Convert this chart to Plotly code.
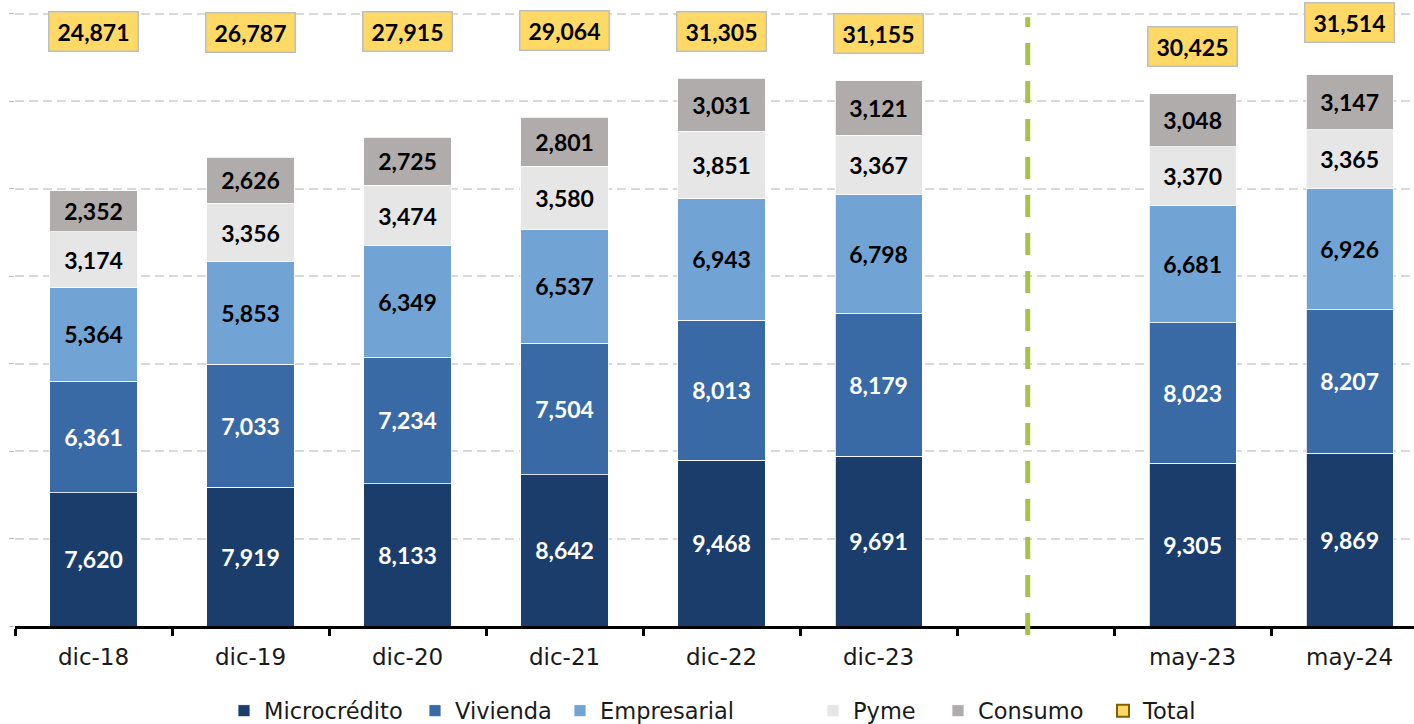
import plotly.graph_objects as go

categories = ["dic-18", "dic-19", "dic-20", "dic-21", "dic-22", "dic-23", " ", "may-23", "may-24"]
microcredito = [7620, 7919, 8133, 8642, 9468, 9691, None, 9305, 9869]
vivienda = [6361, 7033, 7234, 7504, 8013, 8179, None, 8023, 8207]
empresarial = [5364, 5853, 6349, 6537, 6943, 6798, None, 6681, 6926]
pyme = [3174, 3356, 3474, 3580, 3851, 3367, None, 3370, 3365]
consumo = [2352, 2626, 2725, 2801, 3031, 3121, None, 3048, 3147]
totals = [24871, 26787, 27915, 29064, 31305, 31155, None, 30425, 31514]
total_label_y = [33950, 33900, 33950, 34030, 33970, 33860, None, 33110, 34510]

series = [
    ("Microcrédito", microcredito, "#1B3D6C", "white"),
    ("Vivienda", vivienda, "#3A6AA6", "white"),
    ("Empresarial", empresarial, "#71A4D4", "black"),
    ("Pyme", pyme, "#E6E6E6", "black"),
    ("Consumo", consumo, "#B0ACAB", "black"),
]

# legend symbol left edges (px) for each entry
legend_px = [238, 429, 574, 827, 952, 1117]
PLOT_L, PLOT_W = 15, 1399

fig = go.Figure()
legend_names = ["legend"] + [f"legend{i}" for i in range(2, 7)]
for i, (name, vals, color, tcolor) in enumerate(series):
    fig.add_trace(go.Bar(
        name=name, x=categories, y=vals, legend=legend_names[i],
        marker=dict(color=color, line=dict(color="rgba(255,255,255,0.8)", width=1)),
        texttemplate="%{y:,}", textposition="inside", insidetextanchor="middle",
        textangle=0, constraintext="none",
        textfont=dict(family="Lato", size=23, color=tcolor, weight="bold"),
    ))

# legend entry for Total
fig.add_trace(go.Bar(
    name="Total", x=categories, y=[None] * len(categories), legend=legend_names[5],
    marker=dict(color="#FFD966", line=dict(color="#7F6000", width=2)),
    hoverinfo="skip",
))

for c, t, ly in zip(categories, totals, total_label_y):
    if t is None:
        continue
    fig.add_annotation(
        x=c, y=ly, xref="x", yref="y", text=f"<b>{t:,}</b>", showarrow=False,
        font=dict(family="Lato", size=23, color="black"),
        bgcolor="#FFD966", bordercolor="#BFBFBF", borderwidth=1.5, borderpad=4,
        width=80, height=30,
    )

# dashed separator
fig.add_shape(type="line", xref="x", yref="paper", x0=5.95, x1=5.95, y0=-0.0144, y1=0.974,
              line=dict(color="#A9C14A", width=5, dash="22px,16px"))

legend_common = dict(orientation="h", y=-0.136, yanchor="middle", xanchor="left",
                     font=dict(family="DejaVu Sans", size=22.5, color="#1a1a1a"),
                     itemclick=False, bgcolor="rgba(0,0,0,0)")
legends = {}
for i, ln in enumerate(legend_names):
    legends[ln] = dict(legend_common, x=(legend_px[i] - 14 - PLOT_L) / PLOT_W)

fig.update_layout(
    width=1414, height=724,
    margin=dict(l=15, r=0, t=1, b=98, autoexpand=False),
    barmode="stack", bargap=0.445,
    plot_bgcolor="white", paper_bgcolor="white",
    font=dict(family="DejaVu Sans", size=22, color="#1a1a1a"),
    showlegend=True,
    xaxis=dict(
        type="category", range=[-0.5, 8.41], showgrid=False,
        showline=True, linecolor="black", linewidth=3,
        ticks="outside", tickson="boundaries", ticklen=7, tickwidth=3, tickcolor="black",
        tickfont=dict(family="DejaVu Sans", size=23, color="#1a1a1a"),
        ticklabelstandoff=8,
    ),
    yaxis=dict(
        range=[0, 35714], dtick=5000, showticklabels=False,
        showgrid=True, gridcolor="#D9D9D9", gridwidth=1.5, griddash="9px,5px",
        zeroline=False, showline=False,
        ticks="outside", ticklen=5, tickcolor="#BFBFBF",
    ),
    **legends,
)

fig.write_html("out.html", config={"displayModeBar": False},
               post_script="document.body.style.margin='0px';document.body.style.overflow='hidden';")
